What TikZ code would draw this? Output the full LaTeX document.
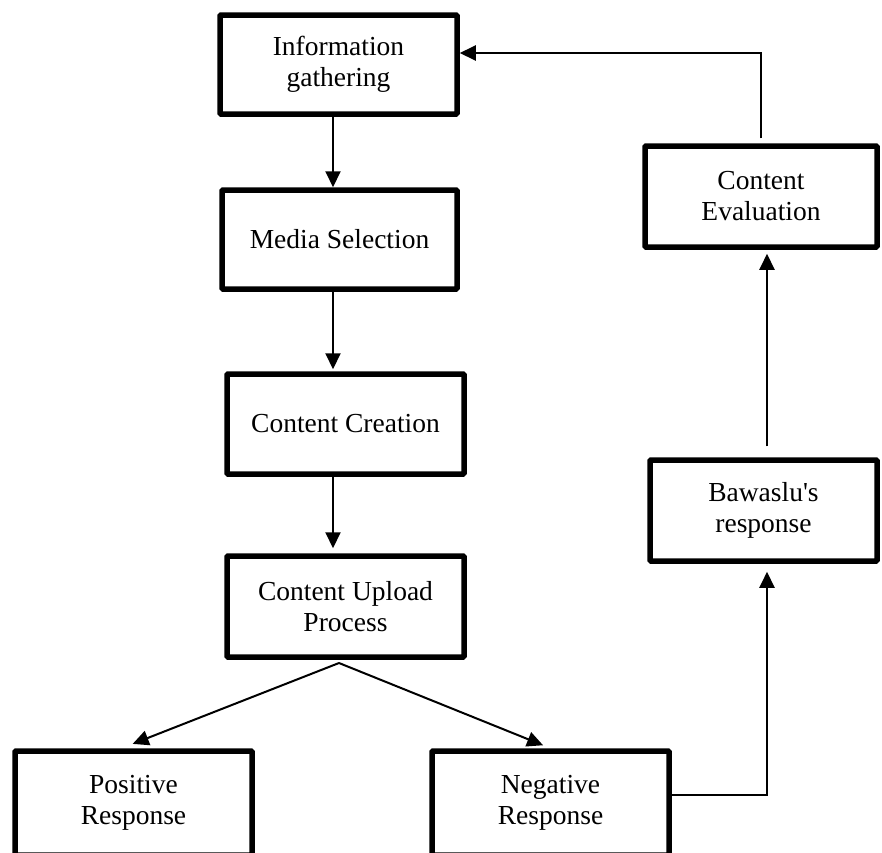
\documentclass[tikz,border=0pt]{standalone}
\usepackage{fontspec}
\setmainfont{Liberation Serif}
\usetikzlibrary{arrows.meta,calc}
\tikzset{
  box/.style={draw, line width=5.5pt, rounded corners=1pt, align=center,
    inner sep=0pt, font=\fontsize{27.5}{31}\selectfont},
  conn/.style={line width=2pt},
  arr/.style={conn, -{Triangle[length=16pt,width=15pt]}}
}
\begin{document}
\begin{tikzpicture}[x=1pt,y=-1pt]
\useasboundingbox (0,0) rectangle (882,852);
\clip (0,0) rectangle (882,852);
\node[box, minimum width=237pt, minimum height=99pt] (b1) at (338.5,64.5) {Information\\gathering};
\node[box, minimum width=235pt, minimum height=99pt] (b2) at (339.5,239.5) {Media Selection};
\node[box, minimum width=237pt, minimum height=100pt] (b3) at (345.5,424) {Content Creation};
\node[box, minimum width=237pt, minimum height=101pt] (b4) at (345.5,606.5) {Content Upload\\Process};
\node[box, minimum width=232pt, minimum height=101pt] (ce) at (761,196.5) {Content\\Evaluation};
\node[box, minimum width=227pt, minimum height=101pt] (bw) at (763.5,510.5) {Bawaslu\textquotesingle s\\response};
\node[box, minimum width=237pt, minimum height=104pt] (pos) at (133.5,803) {Positive\\Response};
\node[box, minimum width=237pt, minimum height=104pt] (neg) at (550.5,803) {Negative\\Response};
\coordinate (c1) at (333,0);
\coordinate (apex) at (339,663);
\coordinate (k1) at (767,795);
\coordinate (k2) at (761,53);
\draw[arr] (b1.south -| c1) -- (b2.north -| c1);
\draw[arr] (b2.south -| c1) -- ([yshift=2pt]b3.north -| c1);
\draw[arr,shorten >=5pt] (b3.south -| c1) -- (b4.north -| c1);
\draw[arr,shorten >=12pt] (apex) -- ([xshift=-12pt]pos.north);
\draw[arr,shorten >=8pt] (apex) -- (neg.north);
\draw[arr,shorten >=8pt] (neg.east |- k1) -- (k1) -- (k1 |- bw.south);
\draw[arr,shorten <=11pt,shorten >=4pt] (k1 |- bw.north) -- (k1 |- ce.south);
\draw[arr,shorten <=5pt] (k2 |- ce.north) -- (k2) -- (b1.east |- k2);
\end{tikzpicture}
\end{document}
